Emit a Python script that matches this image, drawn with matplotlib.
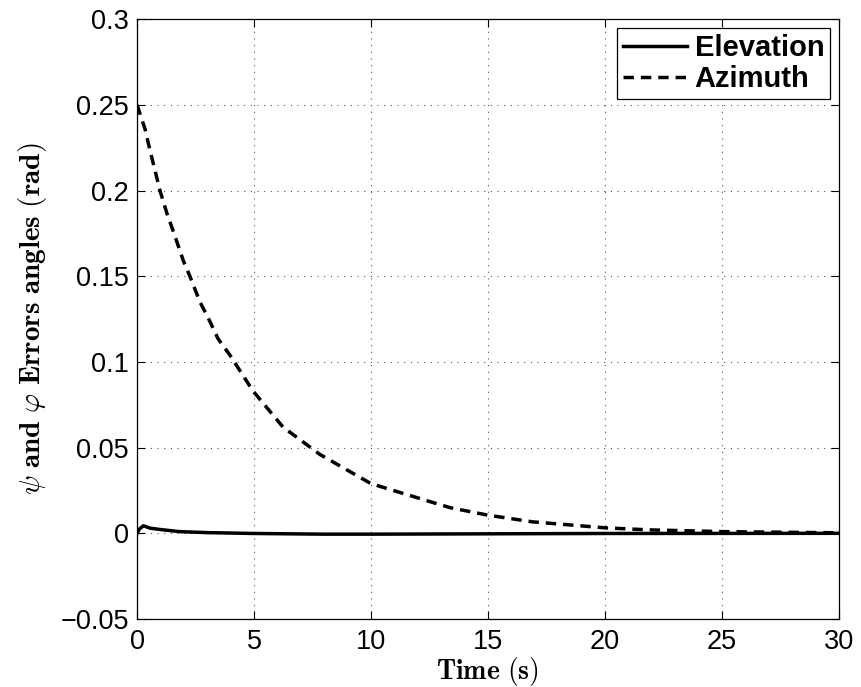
import matplotlib
matplotlib.use("Agg")
import matplotlib.pyplot as plt

plt.rcParams["mathtext.fontset"] = "cm"
plt.rcParams["font.family"] = ["Liberation Sans", "DejaVu Sans"]

# Azimuth error (dashed)
az_t = [0.0, 0.34, 0.56, 0.8, 0.98, 1.27, 1.58, 1.98, 2.26, 2.69, 3.12, 3.46, 3.97,
        4.96, 6.24, 7.82, 10.0, 12.4, 13.4, 15.0, 16.9, 20.0, 21.9, 25.0, 30.0]
az_v = [0.25, 0.236, 0.223, 0.210, 0.200, 0.187, 0.175, 0.159, 0.150, 0.135, 0.1235, 0.1136, 0.104,
        0.083, 0.062, 0.046, 0.029, 0.019, 0.0149, 0.0106, 0.0067, 0.0032, 0.002, 0.001, 0.0003]

# Elevation error (solid)
el_t = [0.0, 0.1, 0.27, 0.56, 1.0, 1.8, 3.0, 5.0, 8.0, 10.0, 15.0, 20.0, 30.0]
el_v = [0.0, 0.0025, 0.0044, 0.0030, 0.0022, 0.0010, 0.0004, -0.0001, -0.0005, -0.0005, -0.0003, -0.0001, 0.0]

xticks = [0, 5, 10, 15, 20, 25, 30]
yticks = [-0.05, 0, 0.05, 0.1, 0.15, 0.2, 0.25, 0.3]
ytick_labels = ["\u22120.05", "0", "0.05", "0.1", "0.15", "0.2", "0.25", "0.3"]

fig = plt.figure(figsize=(8.62, 6.87), dpi=100)
ax = fig.add_axes([0.159, 0.099, 0.814, 0.873])

ax.plot(el_t, el_v, color="black", lw=2.5, label="Elevation")
ax.plot(az_t, az_v, color="black", lw=2.5, linestyle=(0, (3.0, 2.0)), label="Azimuth")

ax.set_xlim(0, 30)
ax.set_ylim(-0.05, 0.3)
ax.set_xticks(xticks)
ax.set_yticks(yticks)
ax.set_yticklabels(ytick_labels)
ax.tick_params(direction="in", length=6, width=0.8, labelsize=19.5, top=True, right=True, pad=6)
ax.tick_params(axis="x", pad=7)
ax.grid(True, linestyle=(0, (1, 5)), color="#555555", linewidth=0.8)
for s in ax.spines.values():
    s.set_linewidth(0.9)

ax.set_xlabel(r"$\mathbf{Time\ (s)}$", fontsize=20, labelpad=0)
ax.set_ylabel(r"$\psi\ \mathbf{and}\ \varphi\ \mathbf{Errors\ angles\ (rad)}$", fontsize=21, labelpad=8)

leg = ax.legend(loc="upper right", prop={"weight": "bold", "size": 21}, fancybox=False,
                edgecolor="black", framealpha=1, handlelength=2.2, handletextpad=0.25,
                borderaxespad=0.3, borderpad=0.2, labelspacing=0.12)
leg.get_frame().set_linewidth(0.9)

fig.savefig("out.png", dpi=100)
